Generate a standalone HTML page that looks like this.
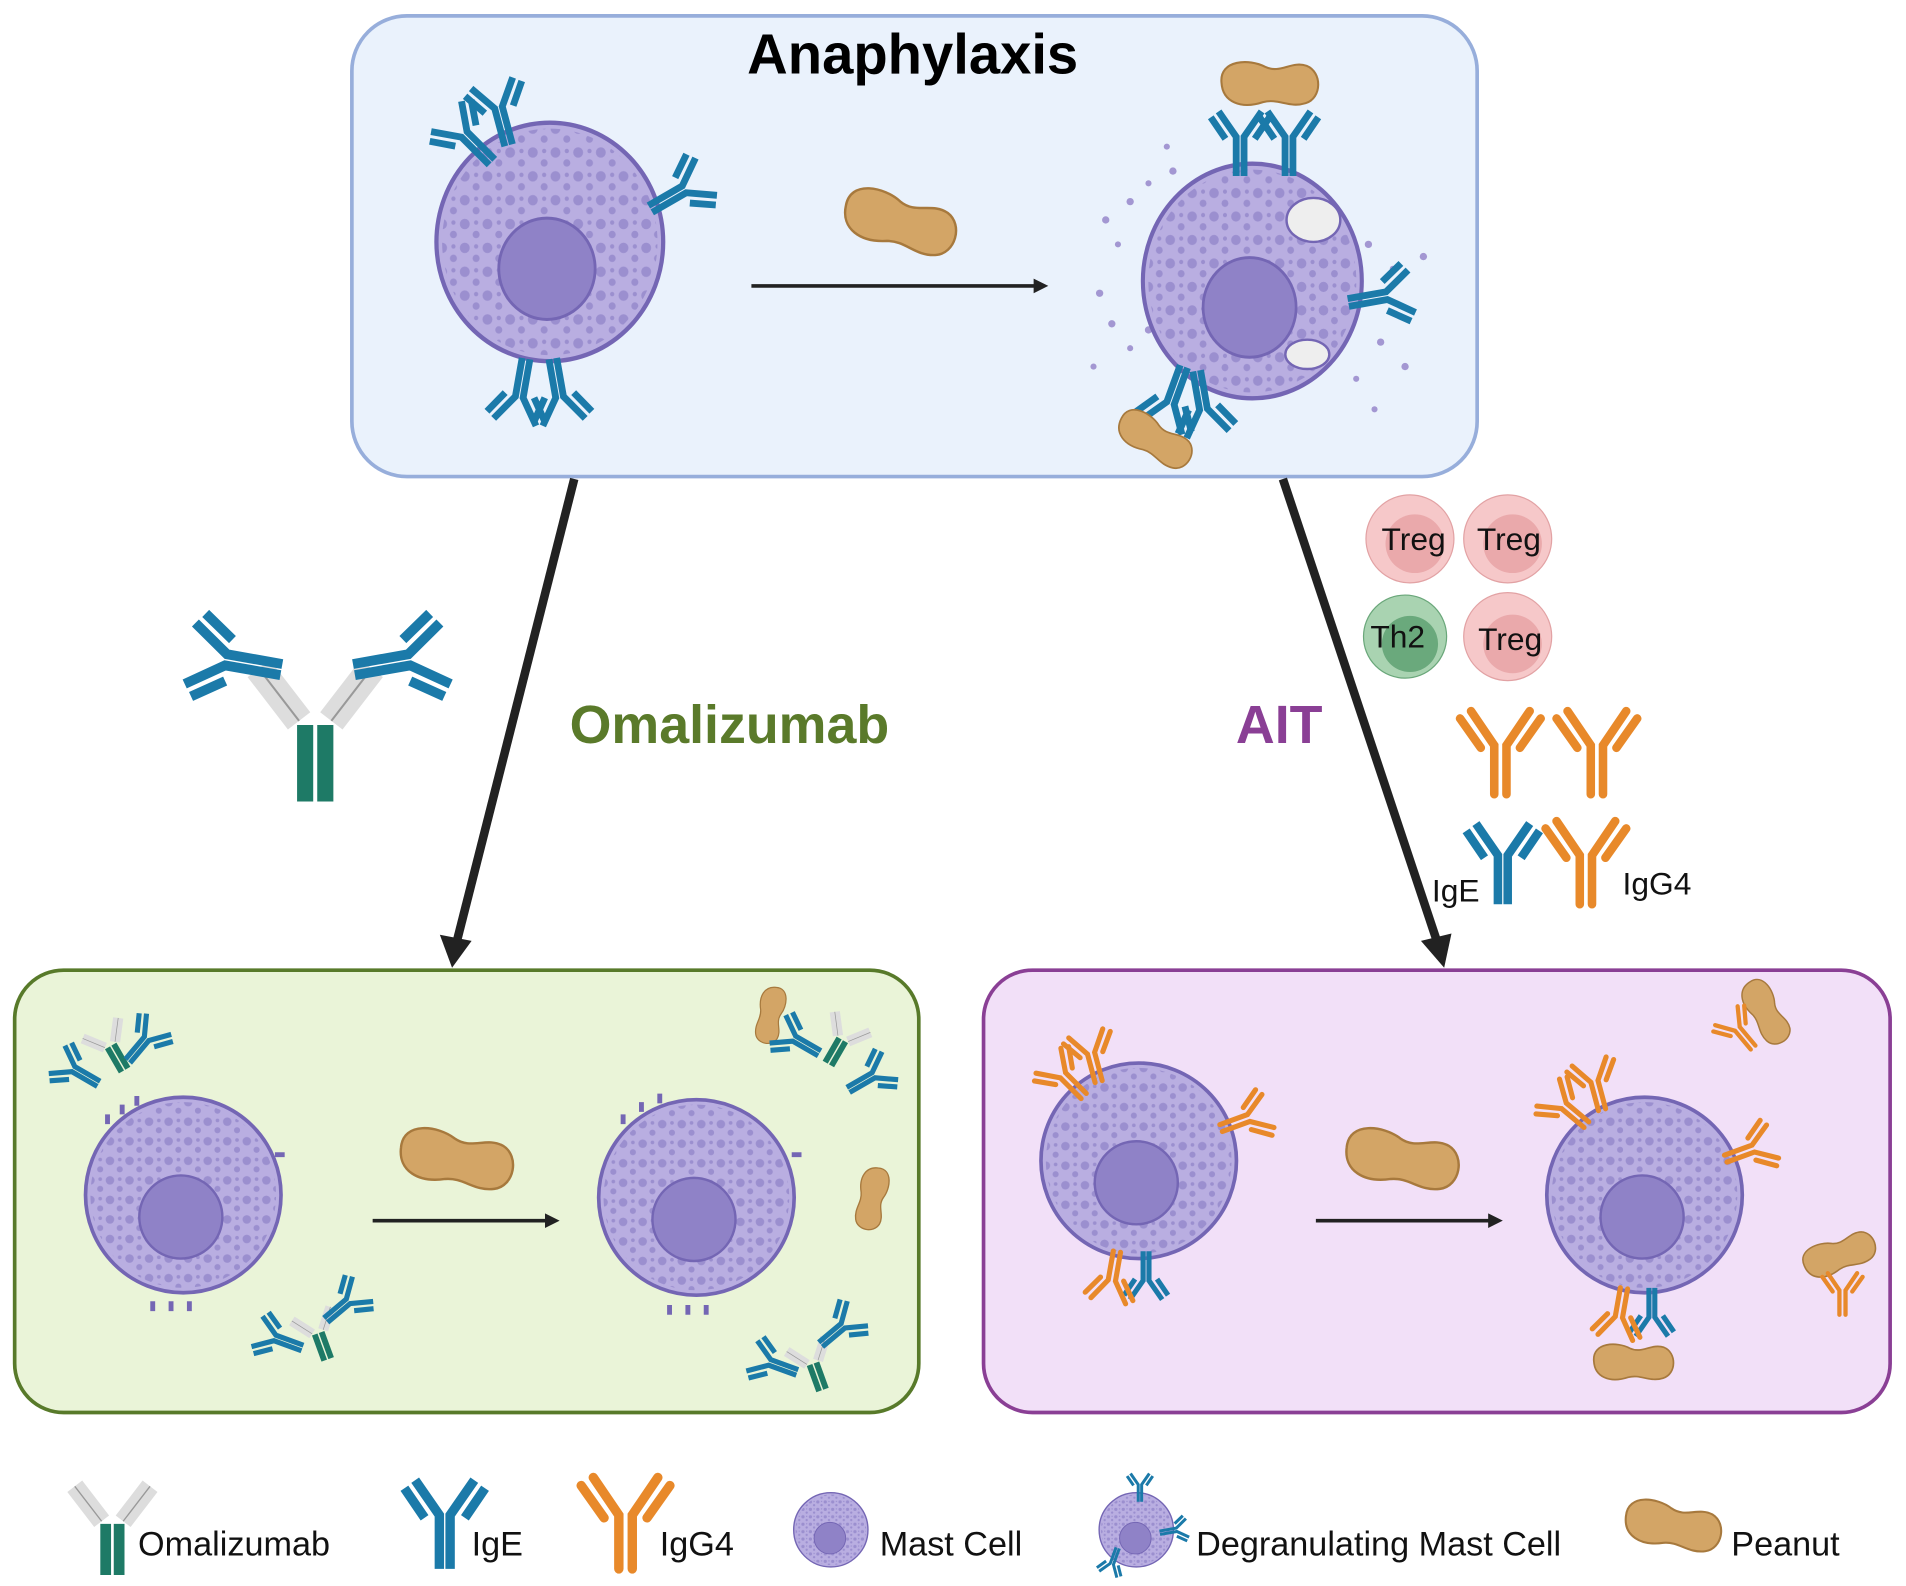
<!DOCTYPE html>
<html><head><meta charset="utf-8"><style>
html,body{margin:0;padding:0;background:#fff}
svg{display:block}
text{font-family:"Liberation Sans",sans-serif}
</style></head><body>
<svg width="1906" height="1586" viewBox="0 0 1560 1298" preserveAspectRatio="none" xmlns="http://www.w3.org/2000/svg">
<defs>
<pattern id="dots" width="16" height="16" patternUnits="userSpaceOnUse">
<circle cx="4" cy="4" r="3.5" fill="#9b8fcf"/><circle cx="12" cy="11" r="2.5" fill="#9b8fcf"/><circle cx="12" cy="3" r="1.5" fill="#9b8fcf"/>
</pattern>
<g id="mc">
<circle r="80" fill="#b9aee1" stroke="#7466b4" stroke-width="3"/>
<circle r="76" fill="url(#dots)"/>
<circle cx="-2" cy="18" r="34" fill="#8f82c7" stroke="#7466b4" stroke-width="2"/>
</g>
<g id="pn">
<path d="M-45,-3 C-47,-25 -18,-26 -3,-18 C12,-11 22,-24 37,-19 C52,-13 52,12 36,17 C20,22 10,12 -5,16 C-26,23 -44,16 -45,-3Z" fill="#d3a566" stroke="#a7793d" stroke-width="2"/>
</g>
<g id="g4" fill="none" stroke="#e8892a" stroke-width="7" stroke-linecap="round">
<path d="M-5,40 V0 L-24,-28 M5,40 V0 L24,-28 M-16,2 L-33,-22 M16,2 L33,-22"/>
</g>
<g id="ige" fill="none" stroke="#1b7aa9" stroke-width="7">
<path d="M-4,40 V0 L-22,-26 M4,40 V0 L22,-26 M-15,2 L-30,-20 M15,2 L30,-20"/>
</g>
<g id="oma">
<path d="M-5,40 V2 M5,40 V2" stroke="#1e7a66" stroke-width="8"/>
<path d="M-8,0 L-28,-26 M8,0 L28,-26" stroke="#ddd" stroke-width="14"/>
<path d="M-8,0 L-28,-26 M8,0 L28,-26" stroke="#999" stroke-width="1" fill="none"/>
</g>
<marker id="ah2" markerWidth="4" markerHeight="4" refX="2" refY="2" orient="auto"><path d="M0,0 L4,2 L0,4Z" fill="#222"/></marker>
</defs>

<rect x="288" y="13" width="921" height="377" rx="45" fill="#eaf2fc" stroke="#97aedb" stroke-width="3"/>
<rect x="12" y="794" width="740" height="362" rx="40" fill="#eaf4d8" stroke="#587a2a" stroke-width="3"/>
<rect x="805" y="794" width="742" height="362" rx="40" fill="#f2e0f8" stroke="#8a3f95" stroke-width="3"/>
<text x="747" y="60" font-size="46" font-weight="bold" text-anchor="middle" fill="#000">Anaphylaxis</text>

<line x1="470" y1="392" x2="374" y2="770" stroke="#222" stroke-width="7"/>
<path d="M360,765 L370,792 L386,770Z" fill="#222"/>
<line x1="1050" y1="392" x2="1176" y2="770" stroke="#222" stroke-width="7"/>
<path d="M1163,770 L1182,792 L1188,764Z" fill="#222"/>
<text x="597" y="608" font-size="44" font-weight="bold" text-anchor="middle" fill="#5a7a2a">Omalizumab</text>
<text x="1047" y="608" font-size="44" font-weight="bold" text-anchor="middle" fill="#8a3f95">AIT</text>

<use href="#mc" transform="translate(450,198) scale(1.16,1.22)"/>
<use href="#ige" transform="translate(380,110) rotate(-45) scale(0.8)"/>
<use href="#ige" transform="translate(408,88) rotate(-15) scale(0.8)"/>
<use href="#ige" transform="translate(560,155) rotate(60) scale(0.8)"/>
<use href="#ige" transform="translate(425,325) rotate(190) scale(0.8)"/>
<use href="#ige" transform="translate(458,325) rotate(170) scale(0.8)"/>
<use href="#pn" transform="translate(735,183) rotate(15)"/>
<line x1="615" y1="234" x2="852" y2="234" stroke="#222" stroke-width="3" marker-end="url(#ah2)"/>
<g fill="#a397d2">
<circle cx="905" cy="180" r="3"/><circle cx="925" cy="165" r="3"/><circle cx="940" cy="150" r="2.5"/><circle cx="960" cy="140" r="3"/><circle cx="915" cy="200" r="2.5"/><circle cx="900" cy="240" r="3"/><circle cx="910" cy="265" r="3"/><circle cx="925" cy="285" r="2.5"/><circle cx="940" cy="270" r="3"/><circle cx="1120" cy="200" r="3"/><circle cx="1140" cy="220" r="2.5"/><circle cx="1165" cy="210" r="3"/><circle cx="1130" cy="280" r="3"/><circle cx="1110" cy="310" r="2.5"/><circle cx="1150" cy="300" r="3"/><circle cx="1125" cy="335" r="2.5"/><circle cx="955" cy="120" r="2.5"/><circle cx="895" cy="300" r="2.5"/>
</g>
<use href="#mc" transform="translate(1025,230) scale(1.12,1.2)"/>
<ellipse cx="1075" cy="180" rx="22" ry="18" fill="#eee" stroke="#7466b4" stroke-width="2"/>
<ellipse cx="1070" cy="290" rx="18" ry="12" fill="#eee" stroke="#7466b4" stroke-width="2"/>
<use href="#ige" transform="translate(1015,112) scale(0.8)"/>
<use href="#ige" transform="translate(1055,112) scale(0.8)"/>
<use href="#ige" transform="translate(1135,242) rotate(80) scale(0.8)"/>
<use href="#ige" transform="translate(958,330) rotate(200) scale(0.8)"/>
<use href="#ige" transform="translate(985,335) rotate(170) scale(0.8)"/>
<use href="#pn" transform="translate(1038,70) scale(0.85)"/>
<use href="#pn" transform="translate(944,360) rotate(30) scale(0.7)"/>

<use href="#oma" transform="translate(258,590) scale(1.65)"/>
<use href="#ige" transform="translate(185,540) rotate(-80) scale(1.15)"/>
<use href="#ige" transform="translate(335,540) rotate(80) scale(1.15)"/>

<g font-size="26" text-anchor="middle" fill="#111">
<circle cx="1154" cy="441" r="36" fill="#f6c8c9" stroke="#e2a2a4"/><circle cx="1158" cy="445" r="24" fill="#eaa9ab"/><text x="1157" y="450">Treg</text>
<circle cx="1234" cy="441" r="36" fill="#f6c8c9" stroke="#e2a2a4"/><circle cx="1238" cy="445" r="24" fill="#eaa9ab"/><text x="1235" y="450">Treg</text>
<circle cx="1150" cy="521" r="34" fill="#a9d3b1" stroke="#6aa77a"/><circle cx="1154" cy="527" r="23" fill="#6aa97c"/><text x="1144" y="530">Th2</text>
<circle cx="1234" cy="521" r="36" fill="#f6c8c9" stroke="#e2a2a4"/><circle cx="1238" cy="527" r="24" fill="#eaa9ab"/><text x="1236" y="532">Treg</text>
</g>
<use href="#g4" transform="translate(1228,610)"/>
<use href="#g4" transform="translate(1307,610)"/>
<use href="#ige" transform="translate(1230,700)"/>
<use href="#g4" transform="translate(1298,700)"/>
<text x="1172" y="738" font-size="26" fill="#111">IgE</text>
<text x="1328" y="732" font-size="26" fill="#111">IgG4</text>

<use href="#mc" transform="translate(150,978)"/>
<use href="#mc" transform="translate(570,980)"/>
<line x1="305" y1="999" x2="452" y2="999" stroke="#222" stroke-width="3" marker-end="url(#ah2)"/>
<use href="#pn" transform="translate(372,950) rotate(10)"/>
<use href="#pn" transform="translate(713,980) rotate(100) scale(0.55)"/>
<use href="#pn" transform="translate(630,830) rotate(100) scale(0.5)"/>
<g fill="none" stroke="#7466b4" stroke-width="4">
<path d="M88,920 v-8 M100,912 v-8 M112,905 v-8 M225,945 h8 M125,1065 v8 M140,1065 v8 M155,1065 v8 M510,920 v-8 M525,910 v-8 M540,903 v-8 M648,945 h8 M548,1068 v8 M563,1068 v8 M578,1068 v8"/>
</g>
<use href="#oma" transform="translate(90,855) rotate(-30) scale(0.6)"/><use href="#ige" transform="translate(60,875) rotate(-60) scale(0.6)"/><use href="#ige" transform="translate(120,850) rotate(40) scale(0.6)"/>
<use href="#oma" transform="translate(690,850) rotate(30) scale(0.6)"/><use href="#ige" transform="translate(650,850) rotate(-60) scale(0.6)"/><use href="#ige" transform="translate(715,880) rotate(60) scale(0.6)"/>
<use href="#oma" transform="translate(260,1090) rotate(-20) scale(0.6)"/><use href="#ige" transform="translate(225,1095) rotate(-70) scale(0.6)"/><use href="#ige" transform="translate(285,1065) rotate(50) scale(0.6)"/>
<use href="#oma" transform="translate(665,1115) rotate(-20) scale(0.6)"/><use href="#ige" transform="translate(630,1115) rotate(-70) scale(0.6)"/><use href="#ige" transform="translate(690,1085) rotate(50) scale(0.6)"/>

<use href="#mc" transform="translate(932,950)"/>
<use href="#mc" transform="translate(1346,978)"/>
<line x1="1077" y1="999" x2="1224" y2="999" stroke="#222" stroke-width="3" marker-end="url(#ah2)"/>
<use href="#pn" transform="translate(1146,950) rotate(10)"/>
<use href="#pn" transform="translate(1444,828) rotate(60) scale(0.6)"/>
<use href="#pn" transform="translate(1505,1028) rotate(-20) scale(0.65)"/>
<use href="#pn" transform="translate(1336,1116) scale(0.7)"/>
<use href="#g4" transform="translate(870,880) rotate(-45) scale(0.6)"/><use href="#g4" transform="translate(893,862) rotate(-15) scale(0.6)"/><use href="#g4" transform="translate(1022,915) rotate(70) scale(0.6)"/>
<use href="#ige" transform="translate(938,1048) rotate(180) scale(0.6)"/><use href="#g4" transform="translate(910,1048) rotate(190) scale(0.6)"/>
<use href="#g4" transform="translate(1280,905) rotate(-50) scale(0.6)"/><use href="#g4" transform="translate(1305,885) rotate(-15) scale(0.6)"/><use href="#g4" transform="translate(1435,940) rotate(70) scale(0.6)"/>
<use href="#ige" transform="translate(1352,1078) rotate(180) scale(0.6)"/><use href="#g4" transform="translate(1325,1078) rotate(190) scale(0.6)"/>
<use href="#g4" transform="translate(1422,842) rotate(-40) scale(0.5)"/><use href="#g4" transform="translate(1508,1056) scale(0.5)"/>

<g font-size="28" fill="#111">
<use href="#oma" transform="translate(92,1245) scale(1.1)"/><text x="113" y="1273">Omalizumab</text>
<use href="#ige" transform="translate(364,1240) scale(1.1)"/><text x="386" y="1273">IgE</text>
<use href="#g4" transform="translate(512,1240) scale(1.1)"/><text x="540" y="1273">IgG4</text>
<use href="#mc" transform="translate(680,1252) scale(0.38)"/><text x="720" y="1273">Mast Cell</text>
<use href="#mc" transform="translate(930,1252) scale(0.38)"/>
<use href="#ige" transform="translate(933,1215) scale(0.35)"/><use href="#ige" transform="translate(963,1252) rotate(80) scale(0.35)"/><use href="#ige" transform="translate(910,1280) rotate(200) scale(0.35)"/>
<text x="979" y="1273">Degranulating Mast Cell</text>
<use href="#pn" transform="translate(1368,1250) rotate(10) scale(0.85)"/><text x="1417" y="1273">Peanut</text>
</g>
</svg>
</body></html>
